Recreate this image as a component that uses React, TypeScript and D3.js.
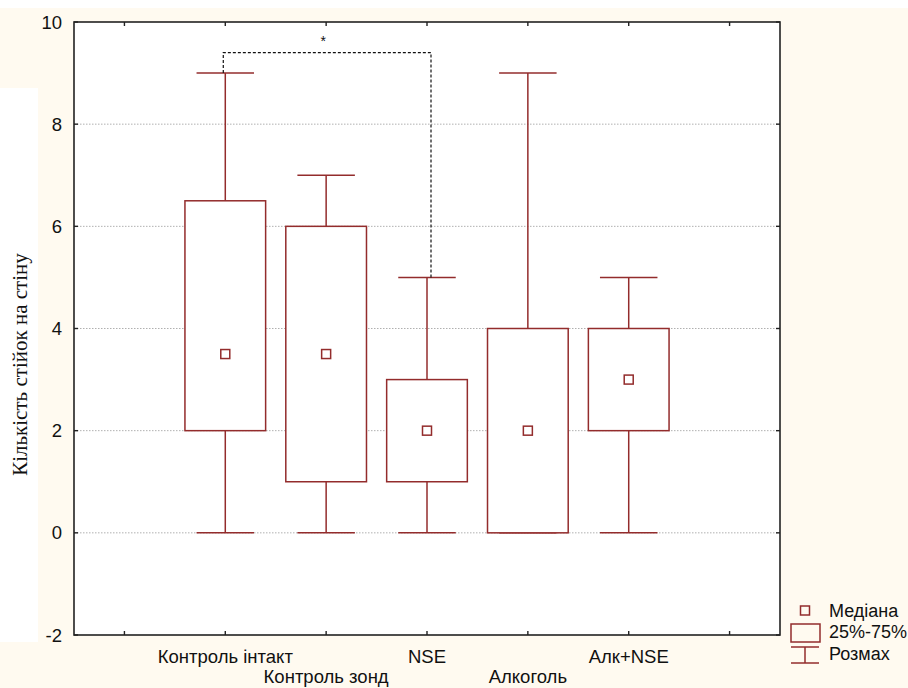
import React from "react";
import * as d3 from "d3";

const categories = ["Контроль інтакт", "Контроль зонд", "NSE", "Алкоголь", "Алк+NSE"];
const minValues = [0, 0, 0, 0, 0];
const q1Values = [2, 1, 1, 0, 2];
const medianValues = [3.5, 3.5, 2, 2, 3];
const q3Values = [6.5, 6, 3, 4, 4];
const maxValues = [9, 7, 5, 9, 5];
const yTicks = [-2, 0, 2, 4, 6, 8, 10];
const gridTicks = [0, 2, 4, 6, 8];
const xTickPositions = [0, 1, 2, 3, 4, 5, 6];
const legendLabels = ["Медіана", "25%-75%", "Розмах"];
const yTitle = "Кількість стійок на стіну";
const sigLabel = "*";
const sigPair = [0, 2];
const sigLevel = 9.4;

const W = 908;
const H = 688;
const COLOR = "#932c2c";
const CREAM = "#FFFAF0";
const FONT = "'Liberation Sans', Arial, sans-serif";

export default function App() {
  const left = 74, right = 780, top = 22, bottom = 635;
  const x = d3.scaleLinear().domain([-0.5, 6.5]).range([left, right]);
  const y = d3.scaleLinear().domain([-2, 10]).range([bottom, top]);
  const unit = x(1) - x(0);
  const boxW = unit * 0.8;
  const capW = unit * 0.57;
  const med = 9;

  const data = categories.map((c, i) => ({
    name: c,
    pos: i + 1,
    min: minValues[i],
    q1: q1Values[i],
    median: medianValues[i],
    q3: q3Values[i],
    max: maxValues[i],
  }));

  const a = data[sigPair[0]];
  const b = data[sigPair[1]];
  const xa = x(a.pos) - 2;
  const xb = x(b.pos) + 4;
  const ys = y(sigLevel);

  const lx = 805;
  return (
    <svg width={W} height={H} style={{ position: "absolute", left: 0, top: 0 }}>
      <rect x={0} y={0} width={W} height={H} fill="#ffffff" />
      <rect x={0} y={8} width={W} height={H - 8} fill={CREAM} />
      <rect x={0} y={88} width={38} height={554} fill="#ffffff" />
      <rect x={left} y={top} width={right - left} height={bottom - top} fill="#ffffff" />

      {gridTicks.map((t) => (
        <line key={"g" + t} x1={left} x2={right} y1={y(t)} y2={y(t)} stroke="#b0b0b0" strokeWidth={1} strokeDasharray="1.5,1.5" />
      ))}

      {/* frame */}
      <rect x={left} y={top} width={right - left} height={bottom - top} fill="none" stroke="#222" strokeWidth={1.6} />

      {yTicks.map((t) => (
        <g key={"yt" + t}>
          <line x1={left} x2={left + 4} y1={y(t)} y2={y(t)} stroke="#222" strokeWidth={1.4} />
          <line x1={right - 4} x2={right} y1={y(t)} y2={y(t)} stroke="#222" strokeWidth={1.4} />
          <text x={62} y={y(t)} dy="0.36em" textAnchor="end" fontFamily={FONT} fontSize={18.5} fill="#111">{t}</text>
        </g>
      ))}
      {xTickPositions.map((t) => (
        <g key={"xt" + t}>
          <line x1={x(t)} x2={x(t)} y1={top} y2={top + 4} stroke="#222" strokeWidth={1.4} />
          <line x1={x(t)} x2={x(t)} y1={bottom - 4} y2={bottom} stroke="#222" strokeWidth={1.4} />
        </g>
      ))}

      {data.map((d) => {
        const cx = x(d.pos);
        return (
          <g key={d.name} stroke={COLOR} strokeWidth={1.5} fill="none">
            <line x1={cx} x2={cx} y1={y(d.max)} y2={y(d.q3)} />
            <line x1={cx} x2={cx} y1={y(d.q1)} y2={y(d.min)} />
            <line x1={cx - capW / 2} x2={cx + capW / 2} y1={y(d.max)} y2={y(d.max)} />
            <line x1={cx - capW / 2} x2={cx + capW / 2} y1={y(d.min)} y2={y(d.min)} />
            <rect x={cx - boxW / 2} y={y(d.q3)} width={boxW} height={y(d.q1) - y(d.q3)} fill="#ffffff" />
            <rect x={cx - med / 2} y={y(d.median) - med / 2} width={med} height={med} fill="#ffffff" />
          </g>
        );
      })}

      {/* significance bracket */}
      <path
        d={`M${xa},${y(a.max)} L${xa},${ys} L${xb},${ys} L${xb},${y(b.max)}`}
        fill="none"
        stroke="#111"
        strokeWidth={1.2}
        strokeDasharray="3,2"
      />
      <text x={(xa + xb) / 2 - 4} y={ys - 7} textAnchor="middle" fontFamily={FONT} fontSize={14} fill="#111">{sigLabel}</text>

      {data.map((d, i) => (
        <text key={"xl" + i} x={x(d.pos)} y={i % 2 === 0 ? 663 : 683} textAnchor="middle" fontFamily={FONT} fontSize={18.5} fill="#111">{d.name}</text>
      ))}

      <text
        transform={`translate(27,${(top + bottom) / 2 + 36}) rotate(-90)`}
        textAnchor="middle"
        fontFamily="'Liberation Serif', 'Times New Roman', serif"
        fontSize={21}
        fill="#111"
      >
        {yTitle}
      </text>

      {/* legend */}
      <g stroke={COLOR} strokeWidth={1.5} fill="none">
        <rect x={lx - 4.5} y={606} width={9} height={9} />
        <rect x={lx - 14} y={624} width={29} height={18} />
        <line x1={lx} x2={lx} y1={647} y2={663} />
        <line x1={lx - 14} x2={lx + 14} y1={647} y2={647} />
        <line x1={lx - 14} x2={lx + 14} y1={663} y2={663} />
      </g>
      {legendLabels.map((l, i) => (
        <text key={l} x={829} y={616.5 + i * 21.5} fontFamily={FONT} fontSize={18} fill="#111">{l}</text>
      ))}
    </svg>
  );
}
